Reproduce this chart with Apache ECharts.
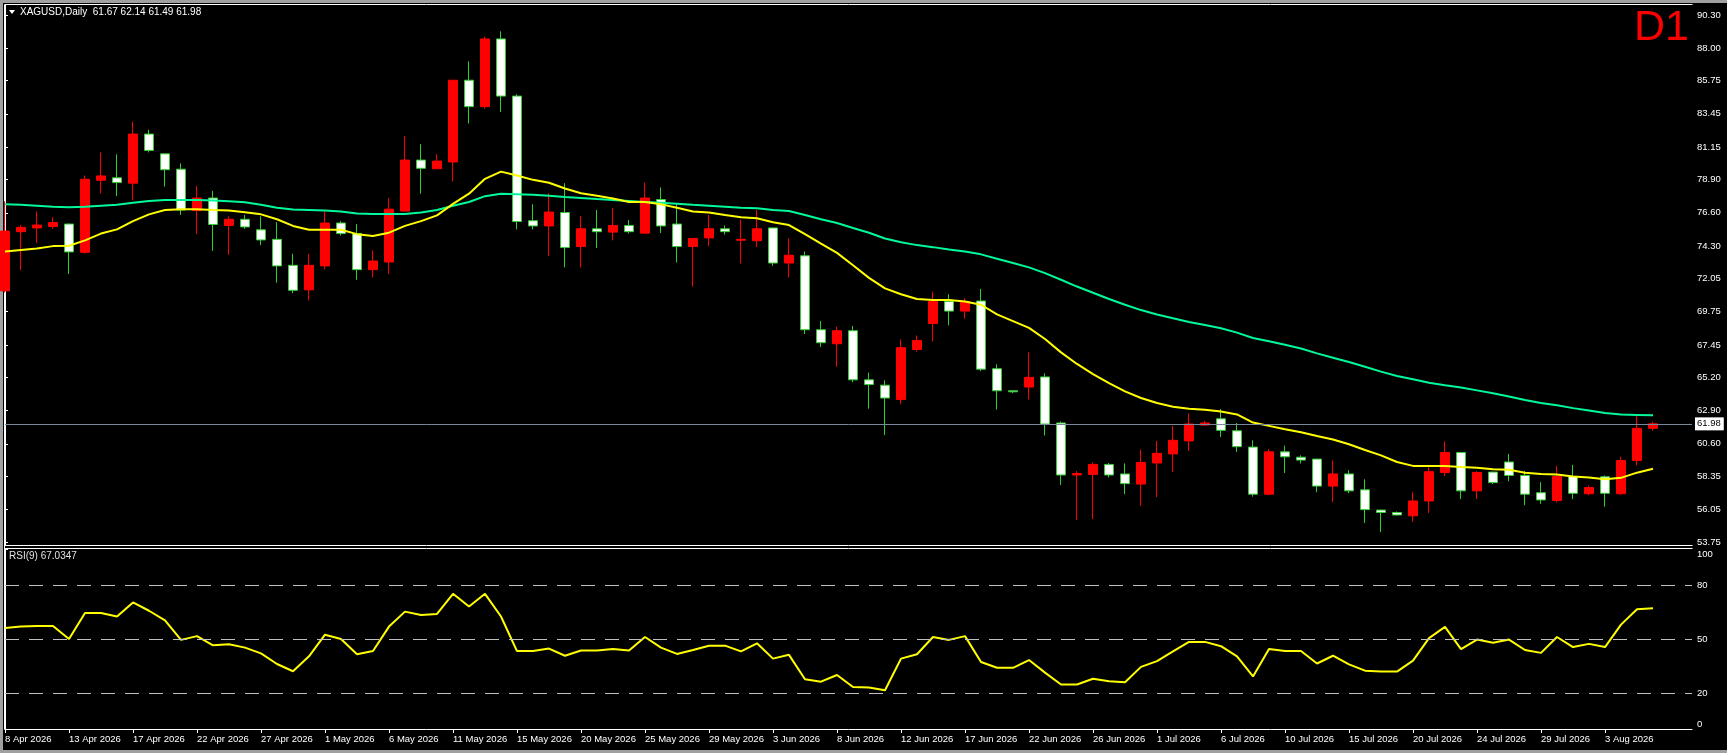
<!DOCTYPE html>
<html lang="en">
<head>
<meta charset="UTF-8">
<title>XAGUSD,Daily</title>
<script src="https://cdn.jsdelivr.net/npm/echarts@6/dist/echarts.min.js"></script>
<style>
  html, body { margin: 0; padding: 0; background: #000; }
  #main { width: 1727px; height: 753px; }
</style>
</head>
<body>
<div id="main"></div>
<script>
// daily bars, 8 Apr 2026 .. 6 Aug 2026 (weekdays)
var opens = [71.19, 75.29, 75.55, 75.65, 75.82, 73.86, 78.85, 79.02, 78.65, 82.05,
    80.68, 79.62, 76.75, 77.62, 75.72, 76.15, 75.42, 74.76, 72.96, 71.26,
    72.92, 75.89, 75.16, 72.66, 73.19, 76.72, 80.25, 79.65, 80.12, 85.78,
    83.95, 88.64, 84.68, 76.05, 75.69, 76.62, 74.26, 75.49, 75.26, 75.72,
    75.19, 77.52, 75.82, 74.26, 74.86, 75.49, 74.70, 74.66, 75.55, 73.12,
    73.62, 68.50, 67.53, 68.43, 65.03, 64.66, 63.67, 67.13, 68.93, 70.46,
    69.79, 70.49, 65.80, 64.27, 64.53, 65.23, 62.04, 58.44, 58.47, 59.17,
    58.51, 57.81, 59.27, 59.90, 60.80, 61.90, 62.33, 61.50, 60.37, 57.11,
    60.04, 59.67, 59.54, 57.67, 58.51, 57.41, 56.01, 55.84, 55.61, 56.64,
    58.61, 60.00, 57.34, 58.64, 59.34, 58.41, 57.21, 56.67, 58.34, 57.14,
    58.31, 57.14, 59.44, 61.67];
var closes = [75.33, 75.59, 75.75, 75.92, 73.89, 78.92, 79.15, 78.69, 82.05, 80.92,
    79.58, 76.79, 77.62, 75.79, 76.15, 75.62, 74.72, 72.92, 71.23, 72.96,
    75.89, 75.16, 72.66, 73.26, 76.85, 80.25, 79.68, 80.18, 85.78, 83.95,
    88.64, 84.68, 75.99, 75.69, 76.65, 74.19, 75.49, 75.29, 75.72, 75.29,
    77.62, 75.69, 74.26, 74.82, 75.49, 75.29, 74.76, 75.49, 73.12, 73.66,
    68.50, 67.60, 68.43, 65.03, 64.70, 63.77, 67.26, 67.76, 70.46, 69.79,
    70.46, 65.77, 64.27, 64.20, 65.20, 61.97, 58.44, 58.54, 59.17, 58.44,
    57.84, 59.31, 59.94, 60.84, 61.97, 62.04, 61.53, 60.40, 57.11, 60.04,
    59.70, 59.47, 57.67, 58.51, 57.34, 56.04, 55.84, 55.67, 56.64, 58.67,
    60.00, 57.34, 58.61, 57.91, 58.41, 57.11, 56.71, 58.34, 57.17, 57.57,
    57.17, 59.44, 61.67, 61.98];
var lows = [71.08, 72.62, 74.52, 75.49, 72.36, 73.76, 77.95, 77.75, 77.45, 80.78,
    78.42, 76.45, 75.12, 73.96, 73.69, 75.49, 74.36, 71.76, 71.03, 70.53,
    72.69, 75.02, 71.96, 72.13, 72.36, 76.69, 77.92, 79.65, 78.78, 82.78,
    83.81, 83.58, 75.45, 75.45, 73.59, 72.82, 72.82, 74.16, 74.69, 75.16,
    75.19, 75.19, 73.16, 71.49, 74.29, 75.09, 73.09, 74.22, 72.92, 72.13,
    68.20, 67.30, 65.93, 64.87, 63.03, 61.20, 63.37, 66.99, 67.70, 68.80,
    69.26, 65.63, 62.97, 64.10, 63.67, 61.17, 57.74, 55.31, 55.38, 58.27,
    57.11, 56.31, 56.91, 58.64, 60.10, 61.84, 61.07, 60.04, 56.94, 57.04,
    58.57, 59.24, 57.24, 56.57, 57.17, 55.11, 54.48, 55.64, 55.21, 55.81,
    58.37, 56.77, 56.77, 57.81, 58.00, 56.34, 56.44, 56.54, 56.77, 57.04,
    56.24, 57.07, 59.11, 61.49];
var highs = [77.40, 75.76, 76.69, 76.29, 75.85, 79.18, 80.78, 80.65, 82.91, 82.35,
    80.70, 80.02, 78.45, 78.12, 76.35, 76.45, 76.35, 75.95, 73.76, 73.76,
    76.69, 76.02, 75.82, 73.99, 77.62, 81.92, 81.35, 80.65, 85.80, 87.08,
    88.80, 89.17, 84.81, 77.19, 77.95, 78.65, 76.39, 76.79, 76.92, 76.09,
    78.68, 78.35, 77.25, 74.84, 76.45, 75.72, 76.12, 76.79, 75.57, 74.82,
    73.92, 69.10, 68.70, 68.76, 65.53, 64.99, 67.83, 68.10, 71.13, 70.96,
    70.69, 71.33, 66.10, 64.30, 66.93, 65.47, 62.14, 58.71, 59.31, 59.27,
    59.24, 60.20, 60.80, 61.84, 62.70, 62.17, 63.00, 62.04, 60.84, 60.24,
    60.47, 59.80, 59.56, 59.44, 58.77, 58.14, 56.03, 55.91, 57.24, 58.97,
    60.77, 60.02, 58.71, 58.66, 59.90, 58.71, 57.94, 59.07, 59.14, 57.71,
    58.41, 59.70, 62.50, 62.14];

// fast moving average (yellow) and slow moving average (green)
var maFast = [73.92, 74.02, 74.12, 74.29, 74.32, 74.69, 75.16, 75.45, 76.02, 76.49,
    76.79, 76.85, 76.85, 76.79, 76.75, 76.64, 76.49, 76.15, 75.69, 75.42,
    75.42, 75.42, 75.12, 74.99, 75.22, 75.69, 76.02, 76.42, 77.22, 77.92,
    78.95, 79.45, 79.18, 78.88, 78.68, 78.28, 77.95, 77.78, 77.59, 77.35,
    77.35, 77.19, 76.95, 76.69, 76.62, 76.45, 76.29, 76.22, 75.95, 75.75,
    75.12, 74.46, 73.82, 72.96, 72.09, 71.36, 70.96, 70.63, 70.56, 70.56,
    70.46, 70.23, 69.56, 69.10, 68.63, 67.86, 66.93, 66.13, 65.43, 64.80,
    64.23, 63.77, 63.43, 63.17, 63.03, 62.95, 62.83, 62.63, 62.07, 61.84,
    61.60, 61.40, 61.14, 60.90, 60.57, 60.17, 59.80, 59.34, 59.07, 59.07,
    59.07, 59.00, 58.94, 58.84, 58.80, 58.60, 58.51, 58.47, 58.34, 58.27,
    58.14, 58.24, 58.60, 58.87];
var maSlow = [77.19, 77.15, 77.09, 77.02, 76.99, 77.02, 77.09, 77.15, 77.29, 77.42,
    77.49, 77.49, 77.49, 77.45, 77.39, 77.33, 77.15, 76.95, 76.82, 76.79,
    76.75, 76.69, 76.55, 76.52, 76.52, 76.52, 76.62, 76.79, 77.09, 77.35,
    77.75, 77.92, 77.89, 77.85, 77.78, 77.69, 77.62, 77.55, 77.49, 77.42,
    77.35, 77.29, 77.22, 77.15, 77.09, 77.02, 76.95, 76.92, 76.79, 76.72,
    76.45, 76.15, 75.89, 75.55, 75.22, 74.82, 74.56, 74.36, 74.22, 74.06,
    73.92, 73.72, 73.42, 73.12, 72.82, 72.42, 71.96, 71.49, 71.06, 70.63,
    70.23, 69.86, 69.56, 69.29, 69.03, 68.82, 68.60, 68.30, 67.93, 67.70,
    67.46, 67.20, 66.86, 66.56, 66.26, 65.93, 65.60, 65.30, 65.07, 64.83,
    64.66, 64.50, 64.30, 64.10, 63.87, 63.63, 63.43, 63.27, 63.07, 62.90,
    62.73, 62.63, 62.60, 62.57];

// RSI(9)
var rsi = [56.1, 56.9, 57.2, 57.2, 50.0, 64.4, 64.4, 62.5, 70.3, 65.7,
    60.4, 49.5, 51.6, 46.5, 47.1, 45.2, 42.0, 36.1, 32.1, 40.4,
    52.4, 50.0, 41.5, 43.3, 56.9, 65.2, 63.3, 63.9, 75.1, 68.1,
    75.1, 62.5, 43.3, 43.3, 44.7, 40.7, 43.6, 43.6, 44.4, 43.6,
    51.1, 45.2, 41.7, 43.9, 46.3, 46.3, 43.1, 47.6, 39.1, 41.2,
    27.6, 26.3, 30.0, 23.3, 23.1, 21.5, 39.1, 41.5, 51.1, 49.5,
    51.6, 37.2, 34.0, 34.0, 38.3, 31.3, 24.7, 24.7, 27.9, 26.5,
    26.0, 34.5, 37.7, 43.1, 48.4, 48.4, 46.0, 40.4, 29.2, 44.4,
    43.3, 43.3, 36.4, 40.7, 35.9, 32.4, 31.9, 31.9, 38.0, 50.5,
    56.7, 44.4, 49.7, 47.9, 49.7, 43.9, 42.3, 51.1, 45.5, 47.3,
    45.5, 58.0, 66.5, 67.0347];
var rsiLevels = [20, 50, 80];
var rsiTicks = [0, 20, 50, 80, 100];

// axis ticks
var priceTicks = [53.75, 56.05, 58.35, 60.60, 62.90, 65.20, 67.45, 69.75, 72.05,
    74.30, 76.60, 78.90, 81.15, 83.45, 85.75, 88.00, 90.30];
var dateTickBars = [0, 4, 8, 12, 16, 20, 24, 28, 32, 36, 40, 44, 48, 52, 56, 60,
    64, 68, 72, 76, 80, 84, 88, 92, 96, 100];
var dateTickLabels = ['8 Apr 2026', '13 Apr 2026', '17 Apr 2026', '22 Apr 2026',
    '27 Apr 2026', '1 May 2026', '6 May 2026', '11 May 2026', '15 May 2026',
    '20 May 2026', '25 May 2026', '29 May 2026', '3 Jun 2026', '8 Jun 2026',
    '12 Jun 2026', '17 Jun 2026', '22 Jun 2026', '26 Jun 2026', '1 Jul 2026',
    '6 Jul 2026', '10 Jul 2026', '15 Jul 2026', '20 Jul 2026', '24 Jul 2026',
    '29 Jul 2026', '3 Aug 2026'];

var last = opens.length - 1;
var FONT = 'Liberation Sans';
var W = 1727, H = 753;
var plotLeft = 5, plotRight = 1692;
var barsAcross = (plotRight - plotLeft) / 16;

var candles = [];
for (var i = 0; i < opens.length; i++) {
    candles.push([i, opens[i], closes[i], lows[i], highs[i]]);
}
function pairs(arr) {
    return arr.map(function (v, i) { return [i, v]; });
}

var chart = echarts.init(document.getElementById('main'));
var option = {
    animation: false,
    backgroundColor: '#000',
    textStyle: { fontFamily: FONT },
    grid: [
        { left: plotLeft, right: W - plotRight, top: 5, bottom: H - 545 },
        { left: plotLeft, right: W - plotRight, top: 549, bottom: H - 729 }
    ],
    xAxis: [
        {
            type: 'value', gridIndex: 0, min: 0, max: barsAcross,
            axisLine: { show: false }, axisTick: { show: false },
            axisLabel: { show: false }, splitLine: { show: false }
        },
        {
            type: 'value', gridIndex: 1, min: 0, max: barsAcross,
            axisLine: { show: true, lineStyle: { color: '#fff', width: 1 } },
            axisTick: { show: true, customValues: dateTickBars, length: 4,
                lineStyle: { color: '#fff' } },
            axisLabel: {
                show: true, customValues: dateTickBars, showMinLabel: true,
                color: '#fff', fontSize: 9.5, align: 'left', margin: 5,
                formatter: function (v) {
                    var k = dateTickBars.indexOf(Math.round(v));
                    return k < 0 ? '' : dateTickLabels[k];
                }
            },
            splitLine: { show: false }
        }
    ],
    yAxis: [
        {
            type: 'value', gridIndex: 0, position: 'right', min: 53.59, max: 90.99,
            axisLine: { show: true, lineStyle: { color: '#fff', width: 1 } },
            axisTick: { show: true, customValues: priceTicks, length: 3,
                lineStyle: { color: '#fff' } },
            axisLabel: {
                customValues: priceTicks, color: '#fff', fontSize: 9.5, margin: 5,
                formatter: function (v) { return v.toFixed(2); }
            },
            splitLine: { show: false }
        },
        {
            type: 'value', gridIndex: 1, position: 'right', min: 0, max: 100,
            axisLine: { show: true, lineStyle: { color: '#fff', width: 1 } },
            axisTick: { show: true, customValues: rsiTicks, length: 3,
                lineStyle: { color: '#fff' } },
            axisLabel: {
                customValues: rsiTicks, color: '#fff', fontSize: 9.5, margin: 5,
                verticalAlignMaxLabel: 'top', verticalAlignMinLabel: 'bottom'
            },
            splitLine: { show: false }
        }
    ],
    series: [
        {
            type: 'line', xAxisIndex: 0, yAxisIndex: 0, data: pairs(maSlow),
            symbol: 'none', silent: true,
            lineStyle: { color: '#00fa9a', width: 2 }
        },
        {
            type: 'candlestick', xAxisIndex: 0, yAxisIndex: 0, data: candles,
            encode: { x: 0, y: [1, 2, 3, 4] },
            barWidth: 10, clip: true,
            itemStyle: {
                color: '#ff0000', borderColor: '#ff0000',
                color0: '#ffffff', borderColor0: '#32cd32',
                borderWidth: 1
            },
            markLine: {
                silent: true, symbol: ['none', 'none'],
                lineStyle: { color: '#778899', type: 'solid', width: 1 },
                label: {
                    show: true, position: 'end', distance: 3,
                    formatter: closes[last].toFixed(2),
                    color: '#000', backgroundColor: '#fff',
                    fontSize: 9.5, padding: [2, 3, 1, 2]
                },
                data: [{ yAxis: closes[last] }]
            }
        },
        {
            type: 'line', xAxisIndex: 0, yAxisIndex: 0, data: pairs(maFast),
            symbol: 'none', silent: true,
            lineStyle: { color: '#ffff00', width: 2 }
        },
        {
            type: 'line', xAxisIndex: 1, yAxisIndex: 1, data: pairs(rsi),
            symbol: 'none', silent: true,
            lineStyle: { color: '#ffff00', width: 2 },
            markLine: {
                silent: true, symbol: ['none', 'none'],
                lineStyle: { color: '#c0c0c0', type: [14, 10], width: 1 },
                label: { show: false },
                data: rsiLevels.map(function (v) { return { yAxis: v }; })
            }
        }
    ],
    graphic: [
        // window edges
        { type: 'rect', shape: { x: 0, y: 0, width: W, height: 3 }, style: { fill: '#a0a0a0' }, silent: true },
        { type: 'rect', shape: { x: 0, y: 0, width: 3, height: H }, style: { fill: '#a0a0a0' }, silent: true },
        { type: 'rect', shape: { x: 0, y: 750, width: W, height: 3 }, style: { fill: '#a0a0a0' }, silent: true },
        // panel frames
        { type: 'line', shape: { x1: 4.5, y1: 4.5, x2: plotRight + 0.5, y2: 4.5 }, style: { stroke: '#fff', lineWidth: 1 }, silent: true },
        { type: 'line', shape: { x1: 4.5, y1: 4.5, x2: 4.5, y2: 729.5 }, style: { stroke: '#fff', lineWidth: 1 }, silent: true },
        { type: 'line', shape: { x1: 4.5, y1: 545.5, x2: plotRight + 0.5, y2: 545.5 }, style: { stroke: '#fff', lineWidth: 1 }, silent: true },
        { type: 'line', shape: { x1: 4.5, y1: 548.5, x2: plotRight + 0.5, y2: 548.5 }, style: { stroke: '#fff', lineWidth: 1 }, silent: true },
        // titles
        { type: 'polygon', shape: { points: [[9, 10], [15, 10], [12, 14]] }, style: { fill: '#fff' }, silent: true },
        {
            type: 'text', left: 20, top: 7, silent: true,
            style: {
                text: 'XAGUSD,Daily  ' + opens[last].toFixed(2) + ' ' + highs[last].toFixed(2) + ' ' +
                    lows[last].toFixed(2) + ' ' + closes[last].toFixed(2),
                fill: '#fff', font: '10px "Liberation Sans"'
            }
        },
        {
            type: 'text', left: 9, top: 551, silent: true,
            style: { text: 'RSI(9) ' + rsi[last].toFixed(4), fill: '#e0e0e0', font: '10px "Liberation Sans"' }
        },
        {
            type: 'text', silent: true,
            style: {
                x: 1689, y: 28, text: 'D1', fill: '#ff0000', font: '43px "Liberation Sans"',
                textAlign: 'right', textVerticalAlign: 'middle'
            }
        }
    ]
};
chart.setOption(option);
</script>
</body>
</html>
